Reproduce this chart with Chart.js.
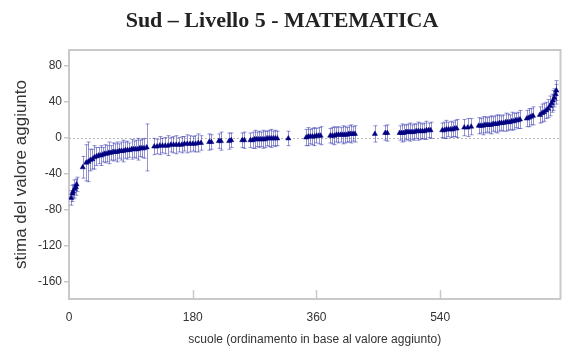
<!DOCTYPE html>
<html>
<head>
<meta charset="utf-8">
<script src="https://cdn.jsdelivr.net/npm/chart.js@4.4.0/dist/chart.umd.min.js"></script>
<style>
  html, body { margin: 0; padding: 0; background: #fff; }
</style>
</head>
<body>
<canvas id="chart" width="565" height="356"></canvas>
<script>
// rank of each school (x) and its value-added estimate (y), with half-width of the interval
const ranks = [
  3, 5, 6, 8, 10, 11,
  20,
  25, 28, 31, 34, 37,
  40, 43, 46, 49, 52, 55, 58, 61, 64, 67, 70, 73, 76, 79, 82, 85, 88, 91, 94, 97, 100, 103, 106, 109,
  113,
  124, 128, 132, 136, 140, 144, 148, 152, 156, 160, 164, 168, 172, 176, 180, 184, 188, 192,
  204, 207, 218, 221, 233, 236, 252, 255,
  264, 267, 270, 273, 276, 279, 282, 285, 288, 291, 294, 297, 300, 303,
  319,
  345, 348, 351, 354, 357, 360, 363, 366,
  380, 383, 386, 389, 392, 395, 398, 401, 404, 407, 410, 413, 416,
  445, 460, 463,
  481, 484, 487, 490, 493, 496, 499, 502, 505, 508, 511, 514, 517, 520, 523, 526,
  543, 546, 549, 552, 555, 558, 561, 564,
  575, 580, 585,
  596, 599, 602, 605, 608, 611, 614, 617, 620, 623, 626, 629, 632, 635, 638, 641, 644, 647, 650, 653, 656,
  666, 669, 672, 675,
  685, 688, 691, 694, 697, 700, 702, 704, 706, 708, 709
];
const values = [
  -67, -62, -60, -57, -55, -52,
  -33,
  -28, -27, -25, -24, -22,
  -21, -20, -20, -19, -18, -18, -17, -17, -16, -16, -16, -15, -15, -15, -14, -14, -14, -13, -13, -13, -13, -12, -12, -12,
  -11,
  -10, -10, -9, -9, -9, -9, -8, -8, -8, -8, -8, -7, -7, -7, -7, -7, -6, -6,
  -5, -5, -4, -4, -4, -3, -3, -3,
  -3, -3, -2, -2, -2, -2, -2, -2, -1, -1, -1, -1, -1, -1,
  -1,
  0, 1, 1, 1, 1, 2, 2, 2,
  2, 2, 2, 3, 3, 3, 3, 3, 3, 4, 4, 4, 4,
  4, 5, 5,
  5, 5, 5, 6, 6, 6, 6, 6, 7, 7, 7, 7, 7, 8, 8, 8,
  8, 8, 9, 9, 9, 9, 10, 10,
  11, 11, 12,
  13, 13, 13, 14, 14, 14, 14, 15, 15, 15, 16, 16, 16, 17, 17, 17, 18, 18, 19, 19, 20,
  21, 22, 23, 24,
  25, 27, 28, 30, 32, 35, 38, 41, 44, 48, 52
];
const margins = [
  8, 9, 8, 10, 9, 8,
  12,
  20, 22, 12, 11, 13,
  10, 9, 11, 8, 10, 9, 12, 8, 10, 9, 11, 8, 10, 12, 9, 10, 8, 11, 9, 10, 12, 9, 10, 11,
  26,
  9, 8, 10, 8, 9, 11, 8, 9, 10, 8, 9, 8, 10, 9, 8, 9, 10, 8,
  9, 8, 8, 10, 9, 8, 8, 9,
  8, 9, 10, 8, 9, 8, 10, 9, 8, 9, 10, 8, 9, 8,
  8,
  9, 10, 8, 9, 10, 8, 9, 10,
  8, 9, 10, 8, 9, 8, 10, 9, 8, 9, 10, 8, 9,
  9, 8, 9,
  8, 10, 9, 8, 9, 10, 8, 9, 8, 10, 9, 8, 9, 10, 8, 9,
  8, 9, 10, 8, 9, 8, 9, 10,
  9, 10, 9,
  9, 8, 10, 9, 8, 9, 10, 8, 9, 10, 9, 8, 9, 10, 9, 8, 10, 9, 8, 9, 10,
  9, 10, 9, 10,
  9, 10, 10, 9, 10, 11, 10, 11, 10, 11, 11
];
const xTicks = [0, 180, 360, 540];
const yTicks = [80, 40, 0, -40, -80, -120, -160];

const frameColor = "#c9c9c9";
const navy = "#000080";

const decorations = {
  id: "decorations",
  beforeDatasetsDraw(chart) {
    const { ctx, chartArea: a, scales: { x, y } } = chart;
    ctx.save();
    // dotted zero line
    const y0 = Math.round(y.getPixelForValue(0)) + 0.5;
    ctx.strokeStyle = "#b8b8b8";
    ctx.lineWidth = 1;
    ctx.setLineDash([2, 2]);
    ctx.beginPath();
    ctx.moveTo(a.left, y0);
    ctx.lineTo(a.right, y0);
    ctx.stroke();
    ctx.setLineDash([]);

    // error bars
    ctx.strokeStyle = "rgba(40, 40, 170, 0.5)";
    ranks.forEach((r, i) => {
      const px = Math.round(x.getPixelForValue(r)) + 0.5;
      const top = y.getPixelForValue(values[i] + margins[i]);
      const bottom = y.getPixelForValue(values[i] - margins[i]);
      ctx.beginPath();
      ctx.moveTo(px, top);
      ctx.lineTo(px, bottom);
      ctx.moveTo(px - 2, top);
      ctx.lineTo(px + 2, top);
      ctx.moveTo(px - 2, bottom);
      ctx.lineTo(px + 2, bottom);
      ctx.stroke();
    });
    ctx.restore();
  },
  afterDraw(chart) {
    const { ctx, chartArea: a, scales: { x } } = chart;
    ctx.save();
    ctx.strokeStyle = frameColor;
    ctx.lineWidth = 2;
    ctx.beginPath();
    ctx.moveTo(a.left, a.top);
    ctx.lineTo(a.right, a.top);
    ctx.lineTo(a.right, a.bottom);
    ctx.stroke();

    // x ticks point inward
    ctx.lineWidth = 1.5;
    xTicks.slice(1).forEach((v) => {
      const px = Math.round(x.getPixelForValue(v)) + 0.5;
      ctx.beginPath();
      ctx.moveTo(px, a.bottom);
      ctx.lineTo(px, a.bottom - 9);
      ctx.stroke();
    });
    ctx.restore();
  },
};

Chart.defaults.font.family = "'Liberation Sans', Arial, sans-serif";
Chart.defaults.color = "#333";

new Chart(document.getElementById("chart"), {
  type: "scatter",
  data: {
    datasets: [{
      data: ranks.map((r, i) => ({ x: r, y: values[i] })),
      pointStyle: "triangle",
      pointRadius: 3,
      backgroundColor: navy,
      borderColor: navy,
      borderWidth: 0.5,
    }],
  },
  options: {
    responsive: false,
    animation: false,
    layout: { padding: { left: 0, right: 1, top: 0, bottom: 0 } },
    plugins: {
      legend: { display: false },
      tooltip: { enabled: false },
      title: {
        display: true,
        text: "Sud – Livello 5 - MATEMATICA",
        color: "#222",
        font: { family: "'Liberation Serif', 'Times New Roman', serif", size: 22, weight: "bold" },
        padding: { top: 8, bottom: 15.6 },
      },
    },
    scales: {
      x: {
        type: "linear",
        min: 0,
        max: 715,
        afterBuildTicks: (scale) => { scale.ticks = xTicks.map((v) => ({ value: v })); },
        afterFit: (scale) => { scale.height = 57; },
        grid: { display: false, drawTicks: false },
        border: { display: true, color: frameColor, width: 2 },
        ticks: { padding: 11, font: { size: 12 }, color: "#333" },
        title: {
          display: true,
          text: "scuole (ordinamento in base al valore aggiunto)",
          font: { size: 12 },
          color: "#333",
          padding: { top: 0, bottom: 9 },
        },
      },
      y: {
        type: "linear",
        min: -179,
        max: 97,
        afterBuildTicks: (scale) => { scale.ticks = yTicks.map((v) => ({ value: v })); },
        afterFit: (scale) => { scale.width = 69; },
        grid: { display: true, drawOnChartArea: false, drawTicks: true, tickLength: 5, color: frameColor, lineWidth: 1.5 },
        border: { display: true, color: frameColor, width: 2 },
        ticks: { padding: 2, font: { size: 12 }, color: "#333" },
        title: {
          display: true,
          text: "stima del valore aggiunto",
          font: { size: 17 },
          color: "#333",
          padding: { top: 11, bottom: 0 },
        },
      },
    },
  },
  plugins: [decorations],
});
</script>
</body>
</html>
